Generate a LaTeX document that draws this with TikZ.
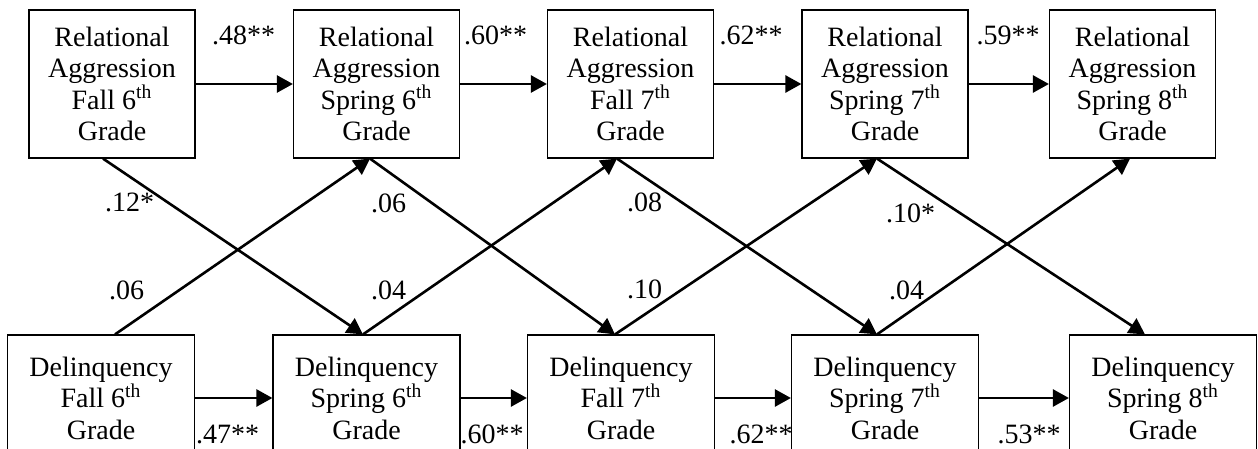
\documentclass[tikz,border=0pt]{standalone}
\usepackage{fontspec}
\setmainfont{Liberation Serif}
\usetikzlibrary{calc,arrows.meta}

\begin{document}
\begin{tikzpicture}[x=0.5pt,y=-0.5pt,font=\fontsize{14}{15.75}\selectfont,
    topbox/.style={draw,line width=0.6pt,rectangle,align=center,inner sep=0pt,minimum width=83pt,minimum height=74pt},
    botbox/.style={draw,line width=0.6pt,rectangle,align=center,inner sep=0pt,minimum width=93.5pt,minimum height=63pt},
    eff/.style={-{Triangle[length=8pt,width=8.5pt]},line width=1.3pt},
    coef/.style={inner sep=0pt}]
      \useasboundingbox (0,0) rectangle (1258,449);
      \clip (0,0) rectangle (1258,449);
      % relational aggression, top row
      \node[topbox] (ra1) at (112,84) {Relational\\Aggression\\Fall 6\textsuperscript{th}\\Grade};
      \node[topbox] (ra2) at (376.5,84) {Relational\\Aggression\\Spring 6\textsuperscript{th}\\Grade};
      \node[topbox] (ra3) at (630.5,84) {Relational\\Aggression\\Fall 7\textsuperscript{th}\\Grade};
      \node[topbox] (ra4) at (885,84) {Relational\\Aggression\\Spring 7\textsuperscript{th}\\Grade};
      \node[topbox] (ra5) at (1132.5,84) {Relational\\Aggression\\Spring 8\textsuperscript{th}\\Grade};
      % delinquency, bottom row
      \node[botbox] (dq1) at (101,398) {Delinquency\\Fall 6\textsuperscript{th}\\Grade};
      \node[botbox] (dq2) at (366.5,398) {Delinquency\\Spring 6\textsuperscript{th}\\Grade};
      \node[botbox] (dq3) at (621,398) {Delinquency\\Fall 7\textsuperscript{th}\\Grade};
      \node[botbox] (dq4) at (885,398) {Delinquency\\Spring 7\textsuperscript{th}\\Grade};
      \node[botbox] (dq5) at (1163,398) {Delinquency\\Spring 8\textsuperscript{th}\\Grade};
      % where the cross paths meet the boxes
      \path
        ($(ra1.south) + (-9,0)$) coordinate (ra1s)
        ($(ra2.south) + (-6.5,0)$) coordinate (ra2s)
        ($(ra3.south) + (-13.5,0)$) coordinate (ra3s)
        ($(ra4.south) + (-8,0)$) coordinate (ra4s)
        ($(ra5.south) + (-2.5,0)$) coordinate (ra5s)
        ($(dq1.north) + (14,0)$) coordinate (dq1n)
        ($(dq2.north) + (-3.5,0)$) coordinate (dq2n)
        ($(dq3.north) + (-6,0)$) coordinate (dq3n)
        ($(dq4.north) + (-8,0)$) coordinate (dq4n)
        ($(dq5.north) + (-18,0)$) coordinate (dq5n);
      % stability paths
      \draw[eff] (ra1) -- (ra2);
      \draw[eff] (ra2) -- (ra3);
      \draw[eff] (ra3) -- (ra4);
      \draw[eff] (ra4) -- (ra5);
      \draw[eff] (dq1) -- (dq2);
      \draw[eff] (dq2) -- (dq3);
      \draw[eff] (dq3) -- (dq4);
      \draw[eff] (dq4) -- (dq5);
      % cross-lagged paths
      \draw[eff] (ra1s) -- (dq2n);
      \draw[eff] (ra2s) -- (dq3n);
      \draw[eff] (ra3s) -- (dq4n);
      \draw[eff] (ra4s) -- (dq5n);
      \draw[eff] (dq1n) -- (ra2s);
      \draw[eff] (dq2n) -- (ra3s);
      \draw[eff] (dq3n) -- (ra4s);
      \draw[eff] (dq4n) -- (ra5s);
      % path coefficients
      \node[coef] (c12ra) at (243.5,35) {.48**};
      \node[coef] (c23ra) at (495.5,35) {.60**};
      \node[coef] (c34ra) at (751,35) {.62**};
      \node[coef] (c45ra) at (1008,35) {.59**};
      \node[coef] (c12dq) at (227.5,434) {.47**};
      \node[coef] (c23dq) at (492,434) {.60**};
      \node[coef] (c34dq) at (761,434) {.62**};
      \node[coef] (c45dq) at (1029,434) {.53**};
      \node[coef] (x1down) at (129.5,202) {.12*};
      \node[coef] (x1up) at (126.5,290) {.06};
      \node[coef] (x2down) at (388.5,203) {.06};
      \node[coef] (x2up) at (388.5,290) {.04};
      \node[coef] (x3down) at (644.5,202) {.08};
      \node[coef] (x3up) at (644.5,289) {.10};
      \node[coef] (x4down) at (910.5,213) {.10*};
      \node[coef] (x4up) at (906.5,290) {.04};
    \end{tikzpicture}
\end{document}
